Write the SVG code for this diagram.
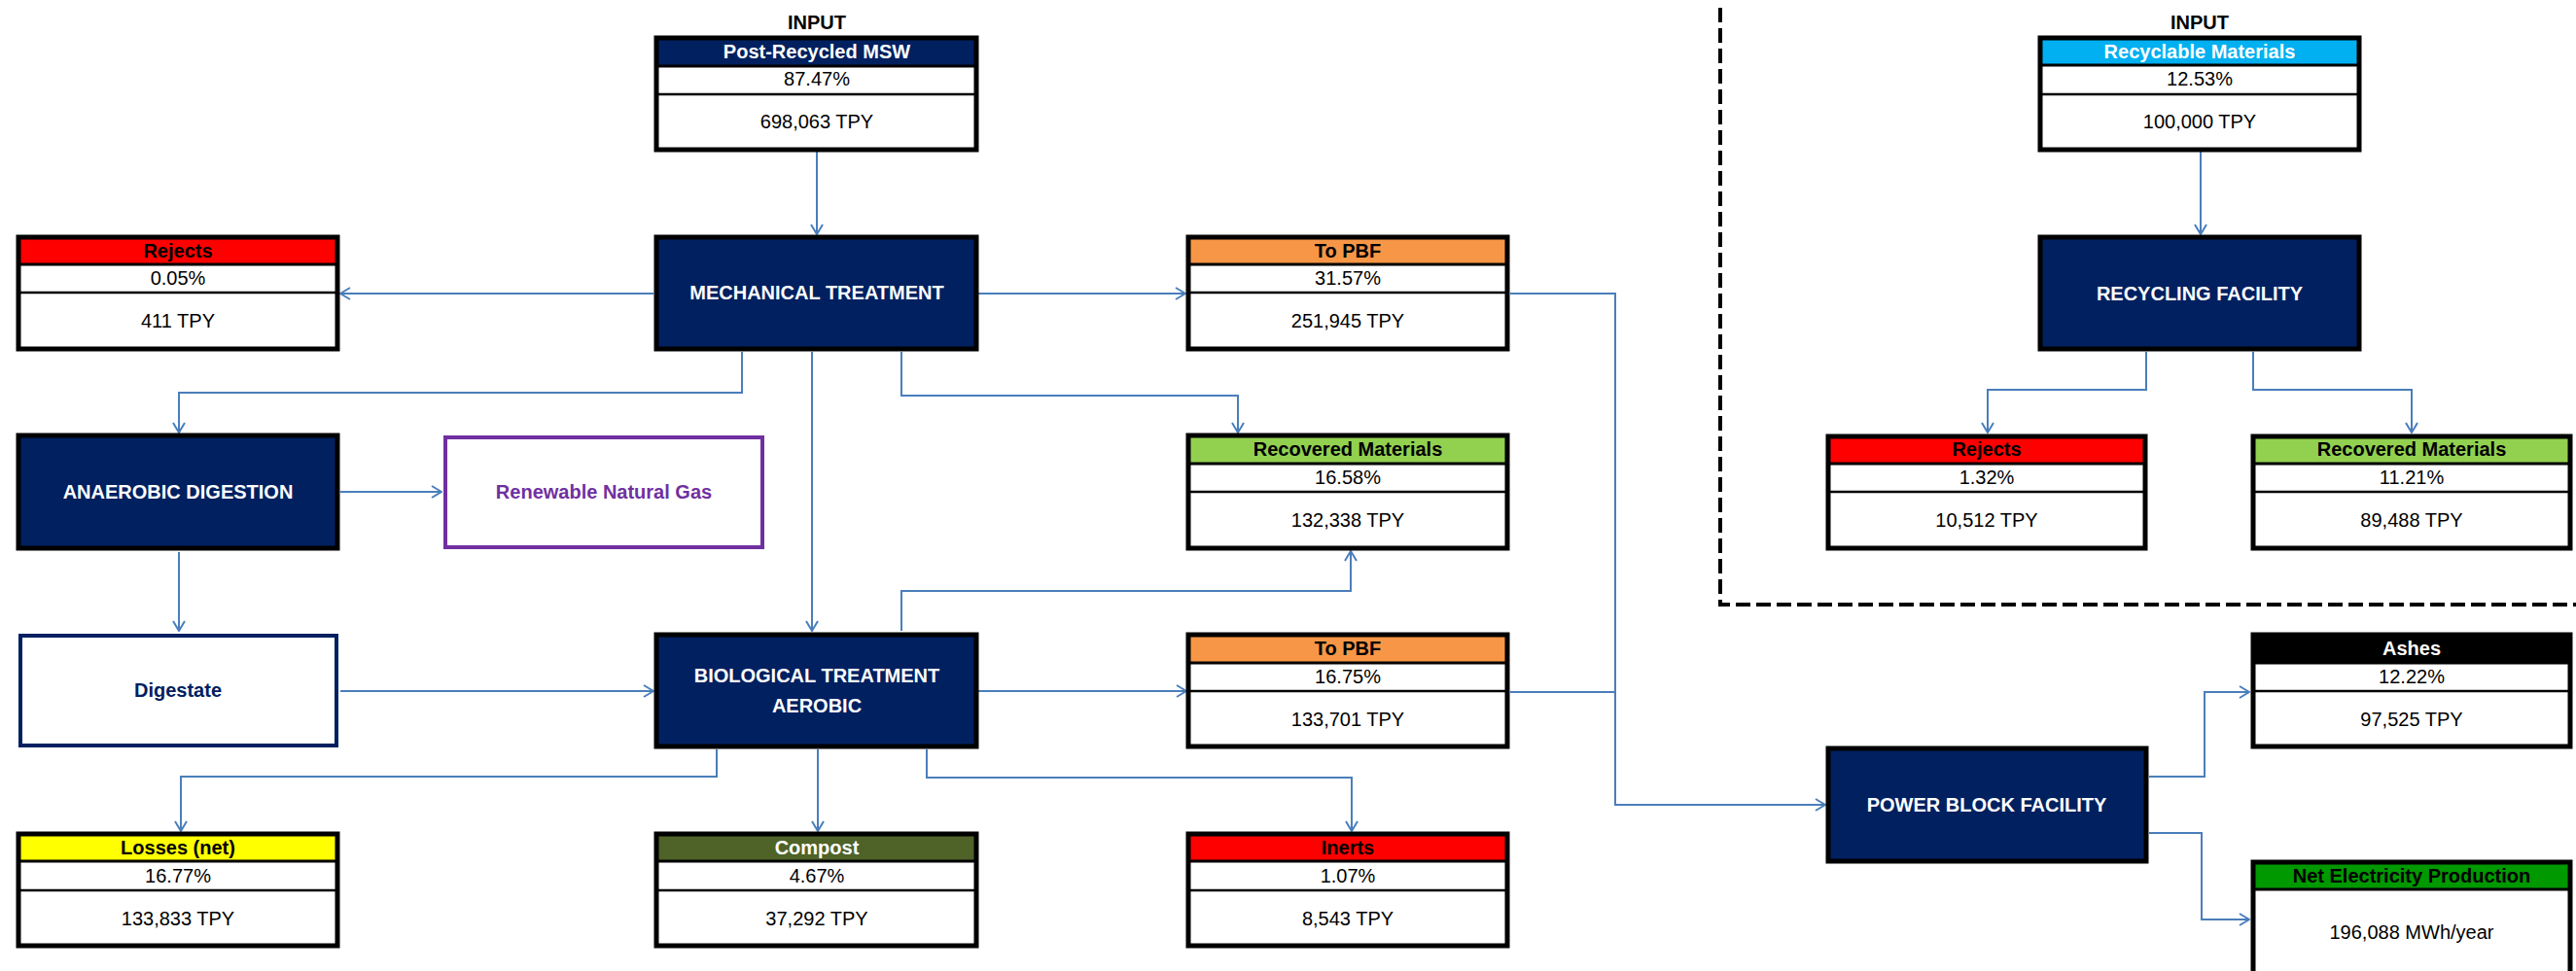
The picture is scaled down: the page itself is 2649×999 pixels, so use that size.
<svg xmlns="http://www.w3.org/2000/svg" width="2649" height="999" viewBox="0 0 2649 999">
<defs>
<style>
text{font-family:"Liberation Sans",Arial,sans-serif;font-size:20px;text-anchor:middle}
.b{font-weight:bold}
.w{fill:#fff}
.k{fill:#000}
.proc{fill:#002060;stroke:#000;stroke-width:5}
.outer{fill:none;stroke:#000;stroke-width:5}
.body{fill:#fff}
.sep{stroke:#000;stroke-width:3}
.sep2{stroke:#000;stroke-width:2.5}
.conn{fill:none;stroke:#4A7EBB;stroke-width:2}
</style>
<marker id="arr" viewBox="0 0 12 14" refX="11" refY="7" markerWidth="12" markerHeight="14" markerUnits="userSpaceOnUse" orient="auto">
<path d="M1,1 L11,7 L1,13" fill="none" stroke="#4A7EBB" stroke-width="2"/>
</marker>
</defs>
<rect width="2649" height="999" fill="#fff"/>

<g id="boundary">
<path d="M1769,8 V622 H2649" fill="none" stroke="#000" stroke-width="4" stroke-dasharray="15 6"/>
</g>

<g id="connectors" class="conn">
<path class="conn" d="M840,155 V241" marker-end="url(#arr)"/>
<path class="conn" d="M672,302 H350" marker-end="url(#arr)"/>
<path class="conn" d="M1006,302 H1219" marker-end="url(#arr)"/>
<path class="conn" d="M763,362 V404 H184 V445" marker-end="url(#arr)"/>
<path class="conn" d="M835,362 V649" marker-end="url(#arr)"/>
<path class="conn" d="M927,362 V407 H1273 V445" marker-end="url(#arr)"/>
<path class="conn" d="M350,506 H454" marker-end="url(#arr)"/>
<path class="conn" d="M184,568 V649" marker-end="url(#arr)"/>
<path class="conn" d="M350,711 H672" marker-end="url(#arr)"/>
<path class="conn" d="M927,649 V608 H1389 V567" marker-end="url(#arr)"/>
<path class="conn" d="M1006,711 H1220" marker-end="url(#arr)"/>
<path class="conn" d="M737,771 V799 H186 V855" marker-end="url(#arr)"/>
<path class="conn" d="M841,771 V855" marker-end="url(#arr)"/>
<path class="conn" d="M953,771 V800 H1390 V855" marker-end="url(#arr)"/>
<path class="conn" d="M1553,302 H1661 V828 H1877" marker-end="url(#arr)"/>
<path class="conn" d="M1553,712 H1661"/>
<path class="conn" d="M2210,799 H2267 V712 H2313" marker-end="url(#arr)"/>
<path class="conn" d="M2210,857 H2264 V946 H2313" marker-end="url(#arr)"/>
<path class="conn" d="M2263,155 V241" marker-end="url(#arr)"/>
<path class="conn" d="M2207,362 V401 H2044 V445" marker-end="url(#arr)"/>
<path class="conn" d="M2317,362 V401 H2480 V445" marker-end="url(#arr)"/>
</g>

<!-- INPUT: Post-Recycled MSW -->
<g id="input-msw">
<text class="b k" x="840" y="30">INPUT</text>
<rect class="body" x="675" y="39" width="329" height="115"/>
<rect x="675" y="39" width="329" height="30" fill="#002060"/>
<line class="sep" x1="675" y1="68" x2="1004" y2="68"/>
<line class="sep2" x1="675" y1="97" x2="1004" y2="97"/>
<rect class="outer" x="675" y="39" width="329" height="115"/>
<text class="b w" x="840" y="60">Post-Recycled MSW</text>
<text x="840" y="88">87.47%</text>
<text x="840" y="132">698,063 TPY</text>
</g>

<!-- Rejects (MT) -->
<g id="rejects-mt">
<rect class="body" x="19" y="244" width="328" height="115"/>
<rect x="19" y="244" width="328" height="29" fill="#FF0000"/>
<line class="sep" x1="19" y1="272" x2="347" y2="272"/>
<line class="sep2" x1="19" y1="301" x2="347" y2="301"/>
<rect class="outer" x="19" y="244" width="328" height="115"/>
<text class="b k" x="183" y="265">Rejects</text>
<text x="183" y="293">0.05%</text>
<text x="183" y="337">411 TPY</text>
</g>

<g id="mechanical-treatment">
<rect class="proc" x="675" y="244" width="329" height="115"/>
<text class="b w" x="840" y="308">MECHANICAL TREATMENT</text>
</g>

<!-- To PBF 1 -->
<g id="to-pbf-1">
<rect class="body" x="1222" y="244" width="328" height="115"/>
<rect x="1222" y="244" width="328" height="29" fill="#F79646"/>
<line class="sep" x1="1222" y1="272" x2="1550" y2="272"/>
<line class="sep2" x1="1222" y1="301" x2="1550" y2="301"/>
<rect class="outer" x="1222" y="244" width="328" height="115"/>
<text class="b k" x="1386" y="265">To PBF</text>
<text x="1386" y="293">31.57%</text>
<text x="1386" y="337">251,945 TPY</text>
</g>

<g id="anaerobic-digestion">
<rect class="proc" x="19" y="448" width="328" height="116"/>
<text class="b w" x="183" y="513">ANAEROBIC DIGESTION</text>
</g>

<g id="renewable-natural-gas">
<rect x="458" y="450" width="326" height="113" fill="#fff" stroke="#7030A0" stroke-width="4"/>
<text class="b" x="621" y="513" fill="#7030A0">Renewable Natural Gas</text>
</g>

<!-- Recovered Materials (MT) -->
<g id="recovered-mt">
<rect class="body" x="1222" y="448" width="328" height="116"/>
<rect x="1222" y="448" width="328" height="29" fill="#92D050"/>
<line class="sep" x1="1222" y1="477" x2="1550" y2="477"/>
<line class="sep2" x1="1222" y1="506" x2="1550" y2="506"/>
<rect class="outer" x="1222" y="448" width="328" height="116"/>
<text class="b k" x="1386" y="469">Recovered Materials</text>
<text x="1386" y="498">16.58%</text>
<text x="1386" y="542">132,338 TPY</text>
</g>

<g id="digestate">
<rect x="21" y="654" width="325" height="113" fill="#fff" stroke="#002060" stroke-width="4"/>
<text class="b" x="183" y="717" fill="#002060">Digestate</text>
</g>

<g id="biological-treatment">
<rect class="proc" x="675" y="653" width="329" height="115"/>
<text class="b w" x="840" y="702">BIOLOGICAL TREATMENT</text>
<text class="b w" x="840" y="733">AEROBIC</text>
</g>

<!-- To PBF 2 -->
<g id="to-pbf-2">
<rect class="body" x="1222" y="653" width="328" height="115"/>
<rect x="1222" y="653" width="328" height="29" fill="#F79646"/>
<line class="sep" x1="1222" y1="682" x2="1550" y2="682"/>
<line class="sep2" x1="1222" y1="711" x2="1550" y2="711"/>
<rect class="outer" x="1222" y="653" width="328" height="115"/>
<text class="b k" x="1386" y="674">To PBF</text>
<text x="1386" y="703">16.75%</text>
<text x="1386" y="747">133,701 TPY</text>
</g>

<!-- Losses -->
<g id="losses">
<rect class="body" x="19" y="858" width="328" height="115"/>
<rect x="19" y="858" width="328" height="29" fill="#FFFF00"/>
<line class="sep" x1="19" y1="886" x2="347" y2="886"/>
<line class="sep2" x1="19" y1="916" x2="347" y2="916"/>
<rect class="outer" x="19" y="858" width="328" height="115"/>
<text class="b k" x="183" y="879">Losses (net)</text>
<text x="183" y="908">16.77%</text>
<text x="183" y="952">133,833 TPY</text>
</g>

<!-- Compost -->
<g id="compost">
<rect class="body" x="675" y="858" width="329" height="115"/>
<rect x="675" y="858" width="329" height="29" fill="#4F6228"/>
<line class="sep" x1="675" y1="886" x2="1004" y2="886"/>
<line class="sep2" x1="675" y1="916" x2="1004" y2="916"/>
<rect class="outer" x="675" y="858" width="329" height="115"/>
<text class="b w" x="840" y="879">Compost</text>
<text x="840" y="908">4.67%</text>
<text x="840" y="952">37,292 TPY</text>
</g>

<!-- Inerts -->
<g id="inerts">
<rect class="body" x="1222" y="858" width="328" height="115"/>
<rect x="1222" y="858" width="328" height="29" fill="#FF0000"/>
<line class="sep" x1="1222" y1="886" x2="1550" y2="886"/>
<line class="sep2" x1="1222" y1="916" x2="1550" y2="916"/>
<rect class="outer" x="1222" y="858" width="328" height="115"/>
<text class="b k" x="1386" y="879">Inerts</text>
<text x="1386" y="908">1.07%</text>
<text x="1386" y="952">8,543 TPY</text>
</g>

<!-- INPUT: Recyclable Materials -->
<g id="input-recyclable">
<text class="b k" x="2262" y="30">INPUT</text>
<rect class="body" x="2098" y="39" width="328" height="115"/>
<rect x="2098" y="39" width="328" height="29" fill="#00B0F0"/>
<line class="sep" x1="2098" y1="67" x2="2426" y2="67"/>
<line class="sep2" x1="2098" y1="97" x2="2426" y2="97"/>
<rect class="outer" x="2098" y="39" width="328" height="115"/>
<text class="b w" x="2262" y="60">Recyclable Materials</text>
<text x="2262" y="88">12.53%</text>
<text x="2262" y="132">100,000 TPY</text>
</g>

<g id="recycling-facility">
<rect class="proc" x="2098" y="244" width="328" height="115"/>
<text class="b w" x="2262" y="309">RECYCLING FACILITY</text>
</g>

<!-- Rejects (RF) -->
<g id="rejects-rf">
<rect class="body" x="1880" y="449" width="326" height="115"/>
<rect x="1880" y="449" width="326" height="28" fill="#FF0000"/>
<line class="sep" x1="1880" y1="477" x2="2206" y2="477"/>
<line class="sep2" x1="1880" y1="506" x2="2206" y2="506"/>
<rect class="outer" x="1880" y="449" width="326" height="115"/>
<text class="b k" x="2043" y="469">Rejects</text>
<text x="2043" y="498">1.32%</text>
<text x="2043" y="542">10,512 TPY</text>
</g>

<!-- Recovered Materials (RF) -->
<g id="recovered-rf">
<rect class="body" x="2317" y="449" width="326" height="115"/>
<rect x="2317" y="449" width="326" height="28" fill="#92D050"/>
<line class="sep" x1="2317" y1="477" x2="2643" y2="477"/>
<line class="sep2" x1="2317" y1="506" x2="2643" y2="506"/>
<rect class="outer" x="2317" y="449" width="326" height="115"/>
<text class="b k" x="2480" y="469">Recovered Materials</text>
<text x="2480" y="498">11.21%</text>
<text x="2480" y="542">89,488 TPY</text>
</g>

<g id="power-block">
<rect class="proc" x="1880" y="770" width="327" height="116"/>
<text class="b w" x="2043" y="835">POWER BLOCK FACILITY</text>
</g>

<!-- Ashes -->
<g id="ashes">
<rect class="body" x="2317" y="653" width="326" height="115"/>
<rect x="2317" y="653" width="326" height="29" fill="#000"/>
<line class="sep" x1="2317" y1="682" x2="2643" y2="682"/>
<line class="sep2" x1="2317" y1="711" x2="2643" y2="711"/>
<rect class="outer" x="2317" y="653" width="326" height="115"/>
<text class="b w" x="2480" y="674">Ashes</text>
<text x="2480" y="703">12.22%</text>
<text x="2480" y="747">97,525 TPY</text>
</g>

<!-- Net Electricity Production -->
<g id="net-electricity">
<rect class="body" x="2317" y="887" width="326" height="130"/>
<rect x="2317" y="887" width="326" height="28" fill="#009900"/>
<line class="sep" x1="2317" y1="915" x2="2643" y2="915"/>
<rect class="outer" x="2317" y="887" width="326" height="130"/>
<text class="b k" x="2480" y="908">Net Electricity Production</text>
<text x="2480" y="966">196,088 MWh/year</text>
</g>
</svg>
